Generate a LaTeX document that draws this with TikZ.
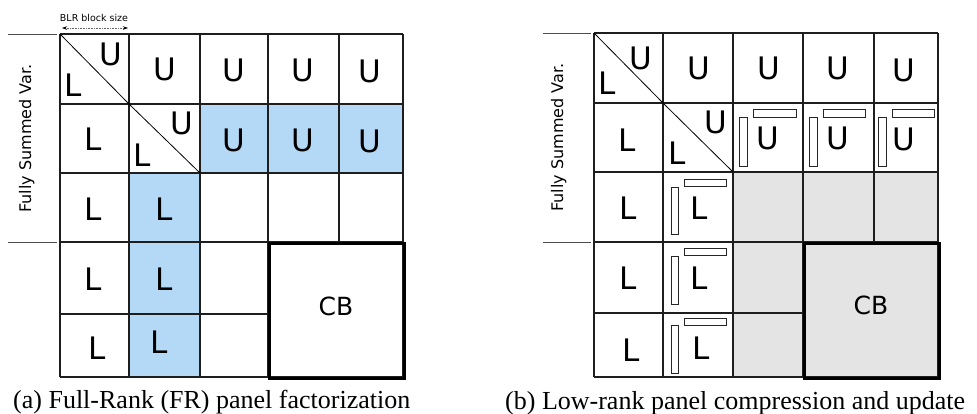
\documentclass[tikz,border=0pt]{standalone}
\usepackage{fontspec}
\setmainfont{DejaVu Sans}
\newfontfamily\capfont{Liberation Serif}
\usetikzlibrary{arrows.meta}
\definecolor{fsblue}{RGB}{179,217,247}
\definecolor{cbgray}{RGB}{228,228,228}
\definecolor{gridc}{RGB}{30,30,30}
\begin{document}
\begin{tikzpicture}[x=1pt,y=-1pt,
  gridline/.style={draw=gridc, line width=1.1pt},
  diagline/.style={draw=black, line width=0.8pt},
  thickbox/.style={draw=black, line width=3pt, line join=miter},
  big/.style={font=\fontsize{31}{31}\selectfont, inner sep=0pt},
  cbtext/.style={font=\fontsize{25}{25}\selectfont, inner sep=0pt},
  lbl/.style={font=\fontsize{16}{16}\selectfont, rotate=90, anchor=base, inner sep=0pt},
  lblline/.style={draw=black!70, line width=0.9pt},
  lr/.style={draw=black!85, line width=0.9pt, fill=white},
  captext/.style={font=\capfont\fontsize{26}{26}\selectfont, anchor=base west, inner sep=0pt},
  blr/.style={font=\fontsize{9.5}{9.5}\selectfont, inner sep=0pt},
]
\useasboundingbox (0,0) rectangle (977,413);

% ================= (a) left matrix =================
\fill[fsblue] (200,104) rectangle (403,173);
\fill[fsblue] (129,173) rectangle (200,377);
\foreach \x in {60,129,200,268,403} \draw[gridline] (\x,34) -- (\x,377);
\draw[gridline] (339,34) -- (339,242);
\foreach \y in {34,104,173,242,377} \draw[gridline] (60,\y) -- (403,\y);
\draw[gridline] (60,314) -- (268,314);
\draw[diagline] (60,34) -- (129,104);
\draw[diagline] (129,104) -- (200,173);
\node[thickbox, minimum width=135pt, minimum height=135pt, inner sep=0pt, anchor=north west] (aCBbox) at (268,242) {};
\node[cbtext] (aCB) at (336,306) {CB};

\node[big] (aU11) at (111,54) {U};
\node[big] (aL11) at (73,85) {L};
\node[big] (aU12) at (164.5,69) {U};
\node[big] (aU13) at (234,70) {U};
\node[big] (aU14) at (303,70) {U};
\node[big] (aU15) at (369.5,71.5) {U};
\node[big] (aL21) at (93.5,139) {L};
\node[big] (aU22) at (182,123) {U};
\node[big] (aL22) at (142,155) {L};
\node[big] (aU23) at (234,140) {U};
\node[big] (aU24) at (303,140) {U};
\node[big] (aU25) at (369.5,141) {U};
\node[big] (aL31) at (93,209.5) {L};
\node[big] (aL32) at (164,209.5) {L};
\node[big] (aL41) at (93,279) {L};
\node[big] (aL42) at (164,279) {L};
\node[big] (aL51) at (97,348) {L};
\node[big] (aL52) at (159,342) {L};

\draw[lblline] (8,34) -- (57,34);
\draw[lblline] (8,242) -- (57,242);
\node[lbl] (aFS) at (31,138.5) {Fully Summed Var.};

\node[blr] (blrtext) at (94,17.5) {BLR block size};
\coordinate (blrA) at (62,28);
\coordinate (blrB) at (128,28);
\draw[black!60, densely dotted, line width=0.6pt,
  {Stealth[length=5pt,width=3.5pt,black]}-{Stealth[length=5pt,width=3.5pt,black]}] (blrA) -- (blrB);

\node[captext] (capa) at (13,408) {(a) Full-Rank (FR) panel factorization};

% ================= (b) right matrix =================
\fill[cbgray] (733,172) rectangle (938,377);
\foreach \x in {594,663,733,803,938} \draw[gridline] (\x,33) -- (\x,377);
\draw[gridline] (874,33) -- (874,242);
\foreach \y in {33,103,172,242,377} \draw[gridline] (594,\y) -- (938,\y);
\draw[gridline] (594,313) -- (803,313);
\draw[diagline] (594,33) -- (663,103);
\draw[diagline] (663,103) -- (733,172);
\node[thickbox, minimum width=135pt, minimum height=135pt, inner sep=0pt, anchor=north west] (bCBbox) at (803,242) {};
\node[cbtext] (bCB) at (871,305.5) {CB};

\draw[lr] (739,117) rectangle (747,166);
\draw[lr] (753,109) rectangle (796,117);
\draw[lr] (809,117) rectangle (817,166);
\draw[lr] (823,109) rectangle (865,117);
\draw[lr] (878,117) rectangle (886,166);
\draw[lr] (892,109) rectangle (934,117);
\draw[lr] (671,187) rectangle (678,234);
\draw[lr] (684,179) rectangle (726,186);
\draw[lr] (671,256) rectangle (678,304);
\draw[lr] (684,248) rectangle (726,255);
\draw[lr] (671,325) rectangle (678,373);
\draw[lr] (684,318) rectangle (726,325);

\node[big] (bU11) at (641,58) {U};
\node[big] (bL11) at (607.5,83) {L};
\node[big] (bU12) at (699,68) {U};
\node[big] (bU13) at (769,68) {U};
\node[big] (bU14) at (837.5,68) {U};
\node[big] (bU15) at (904,70.5) {U};
\node[big] (bL21) at (627.5,140) {L};
\node[big] (bU22) at (716,122.5) {U};
\node[big] (bL22) at (677,153) {L};
\node[big] (bU23) at (768,138.5) {U};
\node[big] (bU24) at (837.5,138.5) {U};
\node[big] (bU25) at (904,139.5) {U};
\node[big] (bL31) at (628,208) {L};
\node[big] (bL32) at (699,208) {L};
\node[big] (bL41) at (628,278) {L};
\node[big] (bL42) at (699,278) {L};
\node[big] (bL51) at (631,350) {L};
\node[big] (bL52) at (701,348) {L};

\draw[lblline] (543,33) -- (591,33);
\draw[lblline] (543,242) -- (591,242);
\node[lbl] (bFS) at (563,137.5) {Fully Summed Var.};

\node[captext] (capb) at (505,409) {(b) Low-rank panel compression and update};
\end{tikzpicture}
\end{document}
